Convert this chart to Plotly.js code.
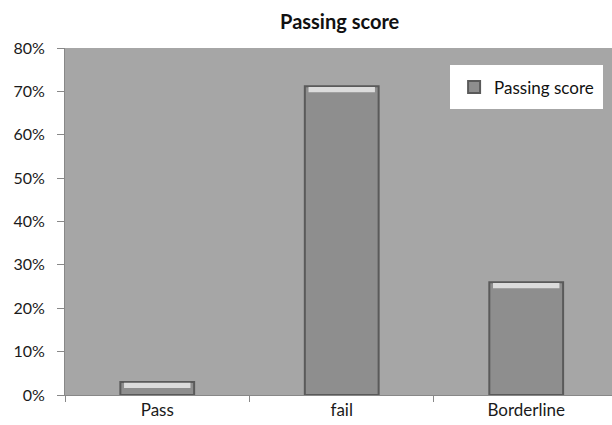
<!DOCTYPE html>
<html><head><meta charset="utf-8">
<script src="https://cdn.plot.ly/plotly-3.0.1.min.js"></script>
<style>html,body{margin:0;padding:0;background:#fff}</style>
</head><body>
<div id="chart" style="width:612px;height:425px"></div>
<script>
const categories = ["Pass", "fail", "Borderline"];
const values = [0.03, 0.712, 0.26];
const seriesName = "Passing score";
const tickVals = [0, 0.1, 0.2, 0.3, 0.4, 0.5, 0.6, 0.7, 0.8];

const hl = 0.012;
const traces = [
  {
    type: "bar", x: categories, y: values, name: seriesName, width: 0.4,
    marker: {color: "#8e8e8e", line: {color: "#5a5a5a", width: 2}}
  },
  {
    type: "bar", x: categories, y: values.map(() => hl), base: values.map(v => v - hl - 0.002),
    width: 0.36, showlegend: false, hoverinfo: "skip",
    marker: {color: "#dcdcdc", line: {width: 0}}
  }
];

const layout = {
  width: 612, height: 425,
  margin: {l: 65, r: 0, t: 48, b: 30},
  paper_bgcolor: "#ffffff", plot_bgcolor: "#a6a6a6",
  barmode: "overlay",
  font: {family: "Lato, 'Open Sans', sans-serif", color: "#1a1a1a", size: 16},
  title: {text: "<b>Passing score</b>", x: 0.555, xanchor: "center", y: 0.948, yanchor: "middle",
          font: {size: 20, color: "#111"}},
  xaxis: {type: "category", range: [-0.5, 2.465], showline: true, linecolor: "#888", linewidth: 1,
          ticks: "outside", tickson: "boundaries", ticklen: 6, tickcolor: "#888",
          showgrid: false, tickfont: {size: 17}, fixedrange: true},
  yaxis: {range: [0, 0.8], tickvals: tickVals, tickformat: ".0%", showline: true, linecolor: "#888",
          linewidth: 1, ticks: "outside", ticklen: 7, tickcolor: "#888", showgrid: false,
          ticklabelstandoff: 9,
          zeroline: false, tickfont: {size: 16}, fixedrange: true},
  legend: {x: 0.704, y: 0.95, xanchor: "left", yanchor: "top", bgcolor: "#ffffff",
           bordercolor: "#ffffff", borderwidth: 4, font: {size: 17, color: "#111"}, itemwidth: 30},
  showlegend: true
};

Plotly.newPlot("chart", traces, layout, {displayModeBar: false, staticPlot: true});
</script>
</body></html>
